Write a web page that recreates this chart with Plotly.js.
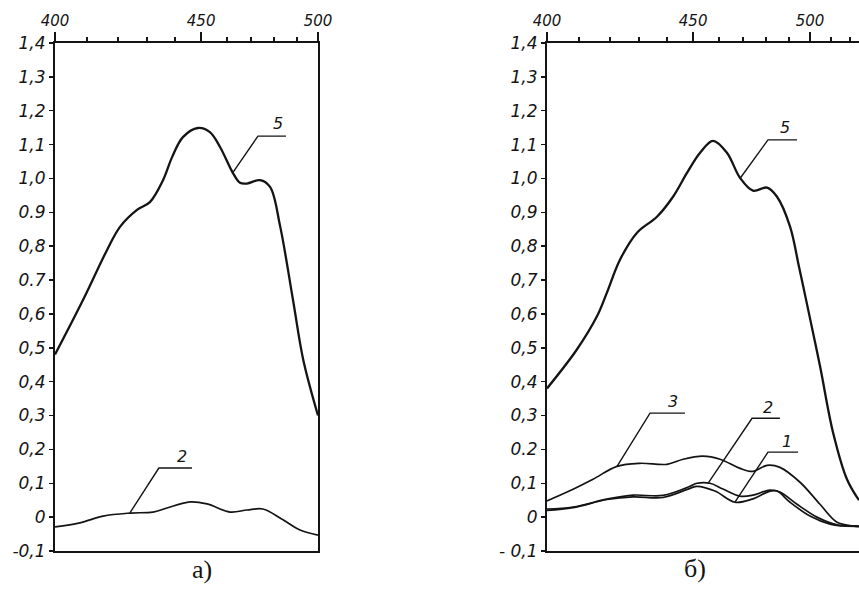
<!DOCTYPE html>
<html>
<head>
<meta charset="utf-8">
<script src="https://cdn.plot.ly/plotly-3.0.1.min.js"></script>
<style>html,body{margin:0;padding:0;background:#fff;}#chart{width:859px;height:597px;}</style>
</head>
<body>
<div id="chart"></div>
<script>
// ---- Data (wavelength, nm ; absorbance) ----
// Panel a)
const a5_nm = [400, 408.7, 416.5, 420.8, 426.6, 431.1, 435.8, 439.1, 443.1, 448.8, 453.4, 457.4, 462.6, 465.5, 468.4, 473.9, 478.2, 482.6, 488.4, 493.1, 500];
const a5_y  = [0.48, 0.641, 0.789, 0.857, 0.907, 0.930, 0.995, 1.063, 1.122, 1.149, 1.137, 1.093, 1.016, 0.987, 0.985, 0.995, 0.975, 0.860, 0.641, 0.464, 0.300];
const a2_nm = [400, 407.7, 415.2, 424.2, 432.2, 437.2, 445.8, 452.3, 461.4, 468.4, 475.1, 483.9, 491.6, 500];
const a2_y  = [-0.029, -0.017, 0.003, 0.012, 0.015, 0.027, 0.045, 0.039, 0.015, 0.021, 0.024, -0.008, -0.038, -0.053];
// Panel б)
const b5_nm = [400, 409.3, 415.8, 419.1, 423.5, 429.4, 436.5, 442.4, 447.7, 452.7, 457.8, 463.4, 468.8, 474.3, 480.4, 484.8, 490.7, 494.8, 498.1, 504.8, 511.2, 518.2, 524.4];
const b5_y  = [0.38, 0.495, 0.593, 0.663, 0.760, 0.840, 0.887, 0.946, 1.017, 1.076, 1.111, 1.076, 1.002, 0.964, 0.973, 0.946, 0.858, 0.740, 0.643, 0.446, 0.250, 0.112, 0.050];
const b3_nm = [400, 406.2, 414.5, 422.5, 430.4, 440.2, 446.2, 453.8, 460.6, 468.8, 474.3, 480.4, 486.1, 495.3, 504.8, 513.2, 521.3, 524.4];
const b3_y  = [0.048, 0.074, 0.112, 0.150, 0.159, 0.156, 0.171, 0.180, 0.171, 0.144, 0.135, 0.153, 0.147, 0.103, 0.038, -0.015, -0.026, -0.028];
const b2_nm = [400, 408.1, 419.1, 428.0, 438.7, 448.8, 451.5, 456.6, 461.8, 468.8, 474.3, 481.7, 486.1, 493.9, 503.3, 513.2, 523.4, 524.4];
const b2_y  = [0.024, 0.030, 0.053, 0.065, 0.064, 0.091, 0.100, 0.100, 0.083, 0.062, 0.065, 0.080, 0.074, 0.038, 0.000, -0.023, -0.026, -0.027];
const b1_nm = [400, 408.1, 419.1, 428.0, 438.7, 448.8, 451.5, 458.6, 466.7, 473.9, 481.7, 484.8, 490.7, 500.0, 509.7, 516.2, 524.4];
const b1_y  = [0.020, 0.028, 0.052, 0.060, 0.058, 0.085, 0.091, 0.077, 0.044, 0.053, 0.077, 0.077, 0.044, 0.003, -0.021, -0.026, -0.027];

// Tick labels
const majorNm = [400, 450, 500];
const majorText = ['400', '450', '500'];
const minorNmA = [410, 420, 430, 440, 460, 470, 480, 490];
const minorNmB = [410, 420, 430, 440, 460, 470, 480, 490, 510, 520];
const yVals = [-0.1, 0, 0.1, 0.2, 0.3, 0.4, 0.5, 0.6, 0.7, 0.8, 0.9, 1.0, 1.1, 1.2, 1.3, 1.4];
const yTextA = ['-0,1', '0', '0,1', '0,2', '0,3', '0,4', '0,5', '0,6', '0.7', '0,8', '0.9', '1,0', '1,1', '1,2', '1,3', '1,4'];
const yTextB = ['- 0,1', '0', '0,1', '0.2', '0,3', '0,4', '0,5', '0,6', '0,7', '0,8', '0,9', '1,0', '1,1', '1,2', '1,3', '1,4'];

// Curve labels with leader lines
const leaders = [
  {ax: 'a', nm: [462.6, 473.0, 485.2], y: [1.018, 1.125, 1.125], text: '5', tnm: 481.7, ty: 1.163},
  {ax: 'a', nm: [424.2, 434.3, 446.5], y: [0.013, 0.145, 0.145], text: '2', tnm: 442.7, ty: 0.180},
  {ax: 'b', nm: [468.8, 480.8, 493.9], y: [1.000, 1.114, 1.114], text: '5', tnm: 488.4, ty: 1.150},
  {ax: 'b', nm: [422.5, 434.0, 446.9], y: [0.150, 0.307, 0.307], text: '3', tnm: 442.4, ty: 0.342},
  {ax: 'b', nm: [455.8, 473.9, 486.1], y: [0.100, 0.292, 0.292], text: '2', tnm: 480.8, ty: 0.325},
  {ax: 'b', nm: [466.7, 480.8, 494.4], y: [0.044, 0.192, 0.192], text: '1', tnm: 489.3, ty: 0.222}
];

// ---- Build ----
const W = 859, H = 597;
const wn = nm => 1e7 / nm;   // axis is linear in wavenumber, labelled in nm
const ink = '#141414';
const hand = {family: 'DejaVu Sans, sans-serif', color: ink, style: 'italic'};

function curve(nm, y, ax, width) {
  return {x: nm.map(wn), y: y, xaxis: ax === 'a' ? 'x' : 'x2', yaxis: ax === 'a' ? 'y' : 'y2',
    mode: 'lines', line: {color: ink, width: width, shape: 'spline', smoothing: 1}, hoverinfo: 'skip'};
}
const traces = [
  curve(a5_nm, a5_y, 'a', 2.3), curve(a2_nm, a2_y, 'a', 1.7),
  curve(b5_nm, b5_y, 'b', 2.3), curve(b3_nm, b3_y, 'b', 1.7),
  curve(b2_nm, b2_y, 'b', 1.7), curve(b1_nm, b1_y, 'b', 1.7)
];
const annotations = [];
leaders.forEach(L => {
  traces.push({x: L.nm.map(wn), y: L.y, xaxis: L.ax === 'a' ? 'x' : 'x2', yaxis: L.ax === 'a' ? 'y' : 'y2',
    mode: 'lines', line: {color: ink, width: 1.4}, hoverinfo: 'skip'});
  annotations.push({x: wn(L.tnm), y: L.ty, xref: L.ax === 'a' ? 'x' : 'x2', yref: L.ax === 'a' ? 'y' : 'y2',
    text: L.text, showarrow: false, font: Object.assign({}, hand, {size: 16})});
});
annotations.push({x: 190 / W, y: 1 - 586 / H, xref: 'paper', yref: 'paper', text: 'а)', showarrow: false,
  font: {family: 'Liberation Serif, serif', size: 26, color: ink}});
annotations.push({x: 708 / W, y: 1 - 585 / H, xref: 'paper', yref: 'paper', text: 'б)', showarrow: false,
  font: {family: 'Liberation Serif, serif', size: 26, color: ink}});

function xAxis(domain, range, minorNm, anchor) {
  return {domain: domain, range: range, side: 'top', anchor: anchor, showline: true, mirror: true,
    linecolor: ink, linewidth: 2, showgrid: false, zeroline: false, ticks: 'outside',
    tickvals: majorNm.map(wn), ticktext: majorText, ticklen: 9, tickwidth: 1.5, tickcolor: ink,
    tickfont: Object.assign({}, hand, {size: 15}),
    minor: {tickvals: minorNm.map(wn), ticks: 'outside', ticklen: 4, tickwidth: 2, tickcolor: ink, showgrid: false}};
}
function yAxis(domain, text, anchor, mirror) {
  return {domain: domain, range: [-0.1, 1.4], anchor: anchor, showline: true, mirror: mirror,
    linecolor: ink, linewidth: 2, showgrid: false, zeroline: false, ticks: 'outside',
    tickvals: yVals, ticktext: text, ticklen: 4, tickwidth: 1.5, tickcolor: ink,
    tickfont: Object.assign({}, hand, {size: 17})};
}
const yDom = [46 / H, 554 / H];
const layout = {
  width: W, height: H, margin: {l: 0, r: 0, t: 0, b: 0}, showlegend: false,
  paper_bgcolor: '#ffffff', plot_bgcolor: '#ffffff',
  xaxis: xAxis([55 / W, 318 / W], [wn(400), wn(500)], minorNmA, 'y'),
  yaxis: yAxis(yDom, yTextA, 'x', true),
  xaxis2: xAxis([547 / W, 1], [wn(400), wn(400) - (312 / 263) * (wn(400) - wn(500))], minorNmB, 'y2'),
  yaxis2: yAxis(yDom, yTextB, 'x2', false),
  annotations: annotations
};
Plotly.newPlot('chart', traces, layout, {displayModeBar: false, staticPlot: true});
</script>
</body>
</html>
